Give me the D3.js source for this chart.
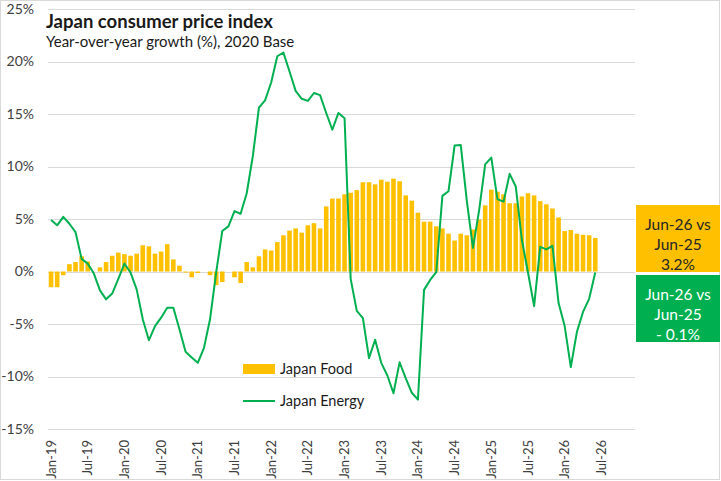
<!DOCTYPE html>
<html lang="en">
<head>
<meta charset="UTF-8">
<title>Japan consumer price index</title>
<script src="https://d3js.org/d3.v7.min.js"></script>
<style>
  body { margin: 0; background: #fff; }
  svg { display: block; font-family: Lato, "Liberation Sans", sans-serif; }
</style>
</head>
<body>
<svg id="chart" width="721" height="481"></svg>
<script>
// Monthly, Jan-19 .. Jun-26 (90 months). Axis runs to Dec-26.
const japanFood = [
  -1.5, -1.5, -0.35, 0.7, 0.9, 1.45, 0.95, 0.0, 0.4, 0.9, 1.5, 1.8,
  1.65, 1.5, 1.7, 2.5, 2.4, 1.7, 1.9, 2.6, 1.15, 0.55, -0.1, -0.55,
  -0.15, 0.0, -0.35, -1.3, -1.0, 0.0, -0.55, -1.1, 0.9, 0.4, 1.45, 2.1,
  2.0, 2.8, 3.45, 3.9, 4.1, 3.7, 4.4, 4.6, 4.1, 6.2, 6.95, 6.95,
  7.35, 7.5, 7.75, 8.5, 8.5, 8.3, 8.75, 8.55, 8.85, 8.6, 7.25, 6.75,
  5.6, 4.75, 4.75, 4.3, 4.1, 3.6, 2.95, 3.6, 3.45, 4.0, 4.95, 6.3,
  7.8, 7.6, 7.35, 6.5, 6.5, 7.15, 7.45, 7.25, 6.7, 6.4, 6.0, 5.15,
  3.85, 3.95, 3.6, 3.5, 3.45, 3.2
];
const japanEnergy = [
  4.9, 4.4, 5.2, 4.55, 3.75, 1.2, 0.75, -0.2, -1.8, -2.65, -2.1, -0.7,
  0.75, -0.1, -1.7, -4.55, -6.55, -5.2, -4.4, -3.45, -3.45, -5.5, -7.65, -8.2,
  -8.7, -7.3, -4.55, -0.1, 3.85, 4.3, 5.75, 5.5, 7.45, 11.0, 15.6, 16.3,
  18.0, 20.5, 20.85, 19.05, 17.2, 16.45, 16.25, 17.0, 16.8, 15.1, 13.5, 15.1,
  14.6, -0.7, -3.75, -4.45, -8.25, -6.5, -8.7, -9.9, -11.6, -8.65, -10.15, -11.55,
  -12.2, -1.75, -0.8, -0.05, 7.2, 7.65, 12.0, 12.05, 6.7, 2.25, 5.8, 10.2,
  10.85, 6.9, 6.65, 9.3, 8.1, 3.0, -0.1, -3.3, 2.35, 2.1, 2.45, -3.0,
  -5.2, -9.1, -5.75, -3.85, -2.6, -0.1
];
const yTicks = [-15, -10, -5, 0, 5, 10, 15, 20, 25];
const tickEvery = 6; // Jan and Jul labels

const months = d3.timeMonths(new Date(2019, 0, 1), new Date(2027, 0, 1));
const fmtMonth = d3.timeFormat("%b-%y");
const categories = months.map(fmtMonth);
const tickLabels = categories.filter((d, i) => i % tickEvery === 0);

const foodColor = "#FFC000";
const energyColor = "#00B050";

const svg = d3.select("#chart");

// outer chart border
svg.append("rect")
  .attr("x", 0.5).attr("y", 0.5)
  .attr("width", 719).attr("height", 479)
  .attr("fill", "#fff").attr("stroke", "#d9d9d9");

const x = d3.scaleBand()
  .domain(categories)
  .range([48, 635])
  .paddingInner(0.25)
  .paddingOuter(0.125);

const y = d3.scaleLinear()
  .domain([-15, 25])
  .range([429, 9]);

// gridlines
svg.append("g")
  .selectAll("line")
  .data(yTicks)
  .join("line")
  .attr("x1", 48).attr("x2", 635)
  .attr("y1", d => Math.round(y(d)) + 0.5)
  .attr("y2", d => Math.round(y(d)) + 0.5)
  .attr("stroke", "#d9d9d9");

// y axis labels
svg.append("g")
  .selectAll("text")
  .data(yTicks)
  .join("text")
  .attr("x", 34)
  .attr("y", d => y(d))
  .attr("dy", "0.35em")
  .attr("text-anchor", "end")
  .attr("font-size", 14)
  .attr("fill", "#404040")
  .text(d => d + "%");

// x axis labels
svg.append("g")
  .selectAll("text")
  .data(tickLabels)
  .join("text")
  .attr("transform", d => `translate(${x(d) + x.bandwidth() / 2},440) rotate(-90)`)
  .attr("dy", "0.35em")
  .attr("text-anchor", "end")
  .attr("font-size", 13)
  .attr("fill", "#404040")
  .text(d => d);

// food bars
svg.append("g")
  .selectAll("rect")
  .data(japanFood)
  .join("rect")
  .attr("x", (d, i) => x(categories[i]))
  .attr("width", x.bandwidth())
  .attr("y", d => y(Math.max(0, d)))
  .attr("height", d => Math.abs(y(d) - y(0)))
  .attr("fill", foodColor);

// energy line
const line = d3.line()
  .x((d, i) => x(categories[i]) + x.bandwidth() / 2)
  .y(d => y(d));

svg.append("path")
  .datum(japanEnergy)
  .attr("d", line)
  .attr("fill", "none")
  .attr("stroke", energyColor)
  .attr("stroke-width", 2)
  .attr("stroke-linejoin", "round");

// title
svg.append("text")
  .attr("x", 46).attr("y", 28)
  .attr("font-size", 18.5)
  .attr("font-weight", "bold")
  .attr("fill", "#1a1a1a")
  .text("Japan consumer price index");
svg.append("text")
  .attr("x", 46).attr("y", 47)
  .attr("font-size", 15)
  .attr("fill", "#1a1a1a")
  .text("Year-over-year growth (%), 2020 Base");

// legend
const legend = svg.append("g").attr("font-size", 14.5).attr("fill", "#1a1a1a");
legend.append("rect")
  .attr("x", 243).attr("y", 364)
  .attr("width", 32).attr("height", 10)
  .attr("fill", foodColor);
legend.append("text").attr("x", 280).attr("y", 369).attr("dy", "0.35em").text("Japan Food");
legend.append("line")
  .attr("x1", 243).attr("x2", 275)
  .attr("y1", 401).attr("y2", 401)
  .attr("stroke", energyColor).attr("stroke-width", 2);
legend.append("text").attr("x", 280).attr("y", 401).attr("dy", "0.35em").text("Japan Energy");

// end-value boxes
const lastIdx = japanFood.length - 1;
const lastMonth = categories[lastIdx];
const prevMonth = categories[lastIdx - 12];
const pct = v => (v < 0 ? "- " + d3.format(".1f")(-v) : d3.format(".1f")(v)) + "%";

const boxes = [
  { y: 205, h: 67, fill: foodColor, color: "#262626", value: japanFood[lastIdx] },
  { y: 275, h: 67, fill: energyColor, color: "#fff", value: japanEnergy[lastIdx] }
];

boxes.forEach(b => {
  svg.append("rect")
    .attr("x", 636).attr("y", b.y)
    .attr("width", 84).attr("height", b.h)
    .attr("fill", b.fill);
  const t = svg.append("text")
    .attr("x", 678)
    .attr("text-anchor", "middle")
    .attr("font-size", 15.5)
    .attr("fill", b.color);
  [lastMonth + " vs", prevMonth, pct(b.value)].forEach((s, k) => {
    t.append("tspan").attr("x", 678).attr("y", b.y + 20 + k * 20).attr("dy", "0.35em").text(s);
  });
});
</script>
</body>
</html>
